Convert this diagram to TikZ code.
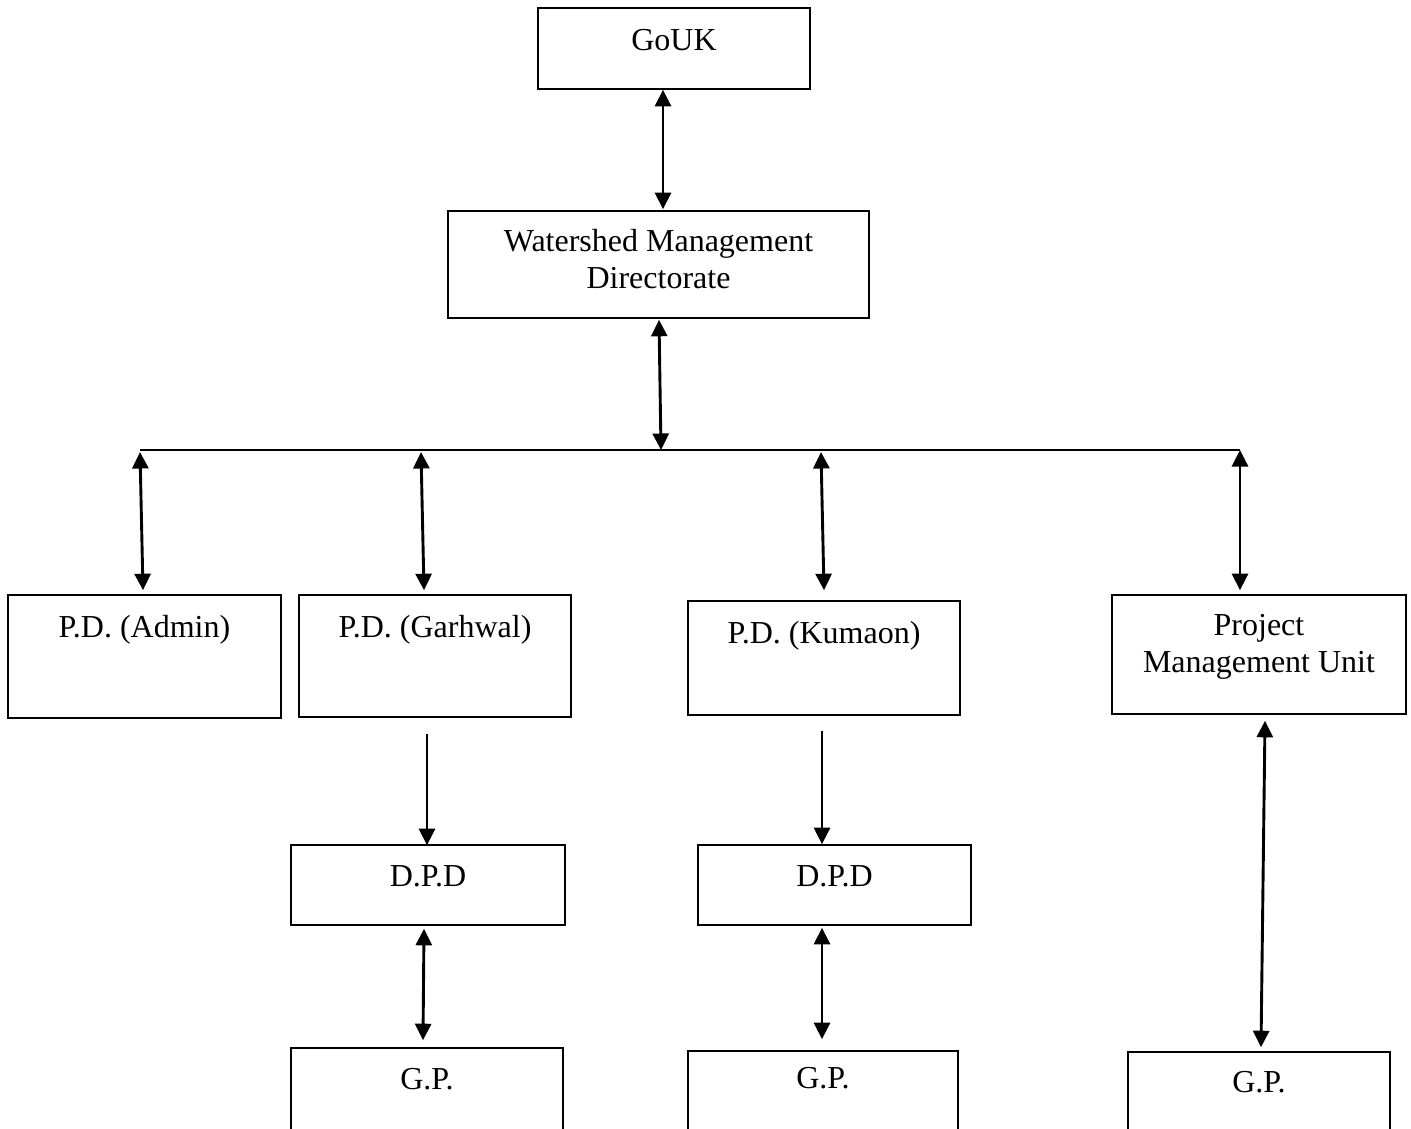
\documentclass[tikz,border=0pt]{standalone}
\usepackage{fontspec}
\setmainfont{Liberation Serif}
\usetikzlibrary{arrows.meta,calc}
\begin{document}
\begin{tikzpicture}[x=1pt,y=-1pt,
  box/.style={draw, line width=1.6pt, rectangle, inner sep=0pt},
  lbl/.style={font=\fontsize{32}{37}\selectfont, align=center, inner sep=0pt},
  tip/.tip={Triangle[length=16.5pt,width=16pt]},
  link/.style={line width=2.9pt, tip-tip},
  down/.style={line width=2.9pt, -tip},
  bar/.style={line width=2pt}]
% page frame (the bottom row of boxes runs off the lower edge)
\clip (0,0) rectangle (1411,1129);
\fill[white] (0,0) rectangle (1411,1129);

% boxes
\node[box, minimum width=272, minimum height=81]  (gouk) at (674,48.5) {};
\node[box, minimum width=421, minimum height=107] (wmd)  at (658.5,264.5) {};
\node[box, minimum width=273, minimum height=123] (pda)  at (144.5,656.5) {};
\node[box, minimum width=272, minimum height=122] (pdg)  at (435,656) {};
\node[box, minimum width=272, minimum height=114] (pdk)  at (824,658) {};
\node[box, minimum width=294, minimum height=119] (pmu)  at (1259,654.5) {};
\node[box, minimum width=274, minimum height=80]  (dpdg) at (428,885) {};
\node[box, minimum width=273, minimum height=80]  (dpdk) at (834.5,885) {};
\node[box, minimum width=272, minimum height=112] (gpg)  at (427,1104) {};
\node[box, minimum width=270, minimum height=109] (gpk)  at (823,1105.5) {};
\node[box, minimum width=262, minimum height=108] (gpp)  at (1259,1106) {};

% texts
\node[lbl, anchor=base]  (gouk-t) at (674,51) {GoUK};
\node[lbl, anchor=north] (wmd-t)  at (658.5,229) {Watershed Management\\Directorate};
\node[lbl, anchor=base]  (pda-t)  at (144.5,637) {P.D. (Admin)};
\node[lbl, anchor=base]  (pdg-t)  at (435,637) {P.D. (Garhwal)};
\node[lbl, anchor=base]  (pdk-t)  at (824,643) {P.D. (Kumaon)};
\node[lbl, anchor=north] (pmu-t)  at (1259,614) {Project\\Management Unit};
\node[lbl, anchor=base]  (dpdg-t) at (428,886) {D.P.D};
\node[lbl, anchor=base]  (dpdk-t) at (834.5,886) {D.P.D};
\node[lbl, anchor=base]  (gpg-t)  at (427,1089) {G.P.};
\node[lbl, anchor=base]  (gpk-t)  at (823,1088) {G.P.};
\node[lbl, anchor=base]  (gpp-t)  at (1259,1092) {G.P.};

% distribution bar
\coordinate (busL) at (140,450);
\coordinate (busR) at (1240,450);
\coordinate (hub)  at (661,450);
\draw[bar] (busL) -- (busR);

% connectors
\draw[link] ($(gouk.south)+(-11,0)$) -- ($(wmd.north)+(4.5,-1)$);
\draw[link] ($(wmd.south)+(0.5,1)$) -- (hub);
\draw[link] ($(busL)+(0,2)$)   -- ($(pda.north)+(-1.5,-4)$);
\draw[link] ($(busL)+(281,2)$) -- ($(pdg.north)+(-11,-4)$);
\draw[link] ($(busL)+(681,2)$) -- ($(pdk.north)+(0,-10)$);
\draw[link] (busR) -- ($(pmu.north)+(-19,-4)$);
\draw[down] ($(pdg.south)+(-8,16)$) -- ($(dpdg.north)+(-1,1)$);
\draw[link] ($(dpdg.south)+(-4,3)$) -- ($(gpg.north)+(-4,-7)$);
\draw[down] ($(pdk.south)+(-2,15)$) -- ($(dpdk.north)+(-12.5,0)$);
\draw[link] ($(dpdk.south)+(-12.5,2)$) -- ($(gpk.north)+(-1,-11)$);
\draw[link] ($(pmu.south)+(6,6)$) -- ($(gpp.north)+(2,-4)$);
\end{tikzpicture}
\end{document}
